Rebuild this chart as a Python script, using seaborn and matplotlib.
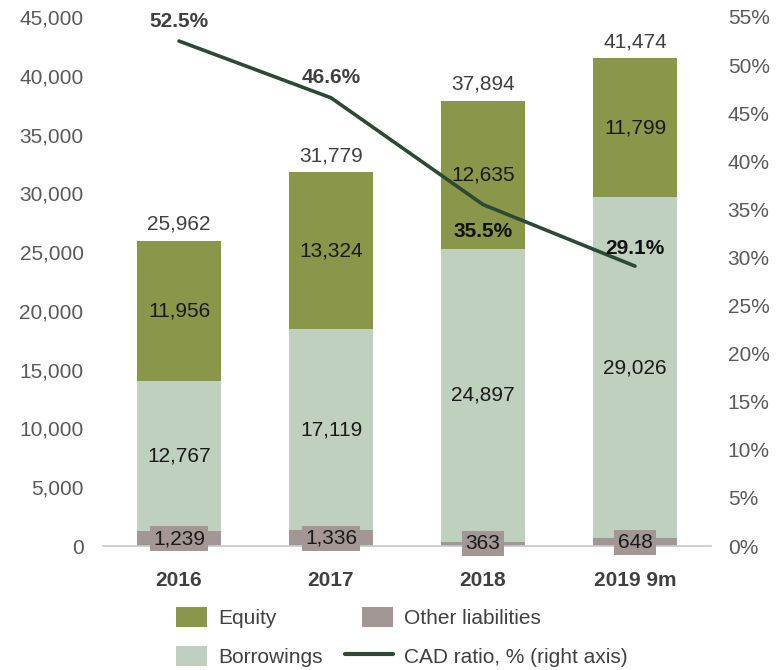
import numpy as np
import pandas as pd
import matplotlib
matplotlib.use("Agg")
import matplotlib.pyplot as plt
import seaborn as sns
from matplotlib.patches import Patch, Rectangle
from matplotlib.lines import Line2D
from matplotlib.legend_handler import HandlerPatch

# Funding structure, RUB mn, and capital adequacy ratio
periods = ["2016", "2017", "2018", "2019 9m"]
other_liabilities = [1239, 1336, 363, 648]
borrowings = [12767, 17119, 24897, 29026]
equity = [11956, 13324, 12635, 11799]
totals = [25962, 31779, 37894, 41474]
cad_ratio = [52.5, 46.6, 35.5, 29.1]
cad_offsets = [14, 14.5, -19.5, 12.5]  # label offset in points above/below the line
cad_label_colors = ["#404040", "#404040", "#111111", "#111111"]

left_ticks = list(range(0, 45001, 5000))
right_ticks = list(range(0, 56, 5))

C_EQUITY = "#8A9649"
C_BORR = "#BFD0BE"
C_OTHER = "#A39796"
C_LINE = "#2A4A33"
C_TICK = "#595959"
C_TEXT = "#1A1A1A"
FS = 15

sns.set_theme(style="white")
plt.rcParams["font.family"] = ["Liberation Sans", "DejaVu Sans"]

df = pd.DataFrame({
    "period": periods,
    "other": other_liabilities,
    "borrowings": borrowings,
    "equity": equity,
    "cad": cad_ratio,
})
df["base_borr"] = df["other"]
df["base_eq"] = df["other"] + df["borrowings"]

fig = plt.figure(figsize=(7.84, 6.70), dpi=100)
ax = fig.add_axes([103 / 784, 1 - 546 / 670, (711 - 103) / 784, (546 - 17) / 670])

bw = 0.55
sns.barplot(data=df, x="period", y="other", color=C_OTHER, width=bw,
            saturation=1, ax=ax, linewidth=0)
sns.barplot(data=df, x="period", y="borrowings", bottom=df["base_borr"],
            color=C_BORR, width=bw, saturation=1, ax=ax, linewidth=0)
sns.barplot(data=df, x="period", y="equity", bottom=df["base_eq"],
            color=C_EQUITY, width=bw, saturation=1, ax=ax, linewidth=0)

ax.set_xlim(-0.5, 3.5)
ax.set_ylim(0, 45000)
ax.set_yticks(left_ticks)
ax.set_yticklabels([f"{v:,}" for v in left_ticks], color=C_TICK, fontsize=FS)
ax.set_xticks(range(len(periods)))
ax.set_xticklabels(periods, fontsize=FS, fontweight="bold", color="#404040")
ax.tick_params(axis="both", length=0)
ax.tick_params(axis="y", pad=14)
ax.tick_params(axis="x", pad=18)
ax.set_xlabel("")
ax.set_ylabel("")
for s in ["top", "right", "left"]:
    ax.spines[s].set_visible(False)
ax.spines["bottom"].set_color("#C8C8C8")
ax.spines["bottom"].set_linewidth(1.2)

# Value labels on the bar segments
for i in range(len(periods)):
    o, b, e = other_liabilities[i], borrowings[i], equity[i]
    ax.text(i, o / 2, f"{o:,}", ha="center", va="center", fontsize=FS,
            color=C_TEXT, zorder=5,
            bbox=dict(boxstyle="square,pad=0.15", fc=C_OTHER, ec="none"))
    ax.text(i, o + b / 2, f"{b:,}", ha="center", va="center", fontsize=FS,
            color=C_TEXT)
    ax.text(i, o + b + e / 2, f"{e:,}", ha="center", va="center", fontsize=FS,
            color=C_TEXT)
    ax.annotate(f"{totals[i]:,}", (i, totals[i]), xytext=(0, 12),
                textcoords="offset points", ha="center", va="center",
                fontsize=FS, color="#404040")

# CAD ratio on the right axis
ax2 = ax.twinx()
sns.lineplot(x=np.arange(len(periods)), y=cad_ratio, ax=ax2, color=C_LINE,
             linewidth=2.6)
ax2.set_ylim(0, 55)
ax2.set_xlim(-0.5, 3.5)
ax2.set_yticks(right_ticks)
ax2.set_yticklabels([f"{v}%" for v in right_ticks], color=C_TICK, fontsize=FS)
ax2.tick_params(axis="y", length=0, pad=12)
for s in ax2.spines.values():
    s.set_visible(False)
for i, v in enumerate(cad_ratio):
    ax2.annotate(f"{v}%", (i, v), xytext=(0, cad_offsets[i]),
                 textcoords="offset points", ha="center", va="center",
                 fontsize=FS, fontweight="bold", color=cad_label_colors[i])


class RightPatch(HandlerPatch):
    """Legend patch of fixed width, aligned to the right of the handle box."""
    def __init__(self, w_pts, **kw):
        super().__init__(**kw)
        self.w_pts = w_pts

    def create_artists(self, legend, orig_handle, xdescent, ydescent,
                       width, height, fontsize, trans):
        r = Rectangle((width - self.w_pts - xdescent, -ydescent), self.w_pts, height,
                      facecolor=orig_handle.get_facecolor(), edgecolor="none",
                      transform=trans)
        return [r]


leg_kw = dict(frameon=False, fontsize=FS, borderpad=0, borderaxespad=0,
              handletextpad=0.52, labelspacing=0.85, handleheight=1.1,
              labelcolor="#404040")
h1 = [Patch(fc=C_EQUITY, ec="none"), Patch(fc=C_BORR, ec="none")]
fig.legend(h1, ["Equity", "Borrowings"], loc="upper left",
           bbox_to_anchor=(176 / 784, 1 - 607 / 670), handlelength=1.5,
           **leg_kw)
h2 = [Patch(fc=C_OTHER, ec="none"), Line2D([], [], color=C_LINE, lw=3)]
fig.legend(h2, ["Other liabilities", "CAD ratio, % (right axis)"],
           loc="upper left", bbox_to_anchor=(345 / 784, 1 - 607 / 670),
           handlelength=2.3,
           handler_map={h2[0]: RightPatch(w_pts=22.5)}, **leg_kw)

fig.savefig("out.png", dpi=100)
